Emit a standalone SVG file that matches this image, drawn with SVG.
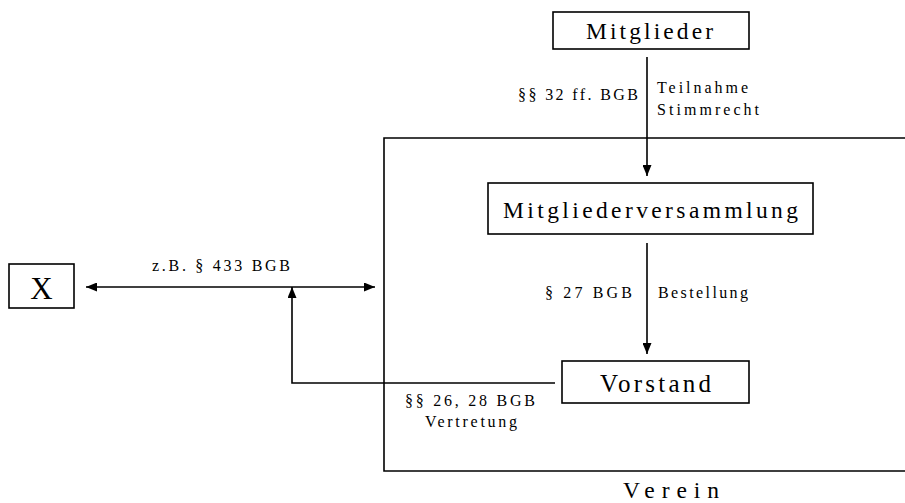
<svg xmlns="http://www.w3.org/2000/svg" width="905" height="503" viewBox="0 0 905 503">
  <style>
    .box { fill: #fff; stroke: #000; stroke-width: 1.6; }
    .frame { fill: none; stroke: #000; stroke-width: 1.6; }
    .line { fill: none; stroke: #000; stroke-width: 1.6; }
    text { font-family: 'Liberation Serif', 'Times New Roman', serif; fill: #000; }
    .big { font-size: 23.5px; }
    .small { font-size: 16px; }
  </style>
  <defs>
    <marker id="arrow" viewBox="0 0 11 9" refX="11" refY="4.5" markerWidth="11" markerHeight="9" markerUnits="userSpaceOnUse" orient="auto-start-reverse">
      <path d="M0,0 L11,4.5 L0,9 z" fill="#000"/>
    </marker>
  </defs>

  <rect width="905" height="503" fill="#fff"/>

  <!-- Verein frame (open to the right) -->
  <g id="verein">
    <path class="frame" d="M910,138 H384 V471 H910"/>
    <text class="big" x="623" y="498" textLength="96" lengthAdjust="spacing">Verein</text>
  </g>

  <!-- connectors -->
  <g id="connectors">
    <line class="line" x1="647" y1="57" x2="647" y2="176" marker-end="url(#arrow)"/>
    <text class="small" x="518" y="100" textLength="120" lengthAdjust="spacing">§§ 32 ff. BGB</text>
    <text class="small" x="657" y="93" textLength="91" lengthAdjust="spacing">Teilnahme</text>
    <text class="small" x="657" y="115" textLength="102" lengthAdjust="spacing">Stimmrecht</text>

    <line class="line" x1="647" y1="243" x2="647" y2="354" marker-end="url(#arrow)"/>
    <text class="small" x="545" y="298" textLength="87" lengthAdjust="spacing">§ 27 BGB</text>
    <text class="small" x="658" y="298" textLength="90" lengthAdjust="spacing">Bestellung</text>

    <line class="line" x1="86" y1="287" x2="375" y2="287" marker-start="url(#arrow)" marker-end="url(#arrow)"/>
    <text class="small" x="152" y="271" textLength="138" lengthAdjust="spacing">z.B. § 433 BGB</text>

    <path class="line" d="M555,383 H292 V287" marker-end="url(#arrow)"/>
    <text class="small" x="405" y="406" textLength="130" lengthAdjust="spacing">§§ 26, 28 BGB</text>
    <text class="small" x="425" y="427" textLength="92" lengthAdjust="spacing">Vertretung</text>
  </g>

  <g id="mitglieder">
    <rect class="box" x="553" y="12" width="196" height="37"/>
    <text class="big" x="586" y="39" textLength="127" lengthAdjust="spacing">Mitglieder</text>
  </g>

  <g id="mitgliederversammlung">
    <rect class="box" x="488" y="183" width="325" height="51"/>
    <text class="big" x="503" y="218" textLength="295" lengthAdjust="spacing">Mitgliederversammlung</text>
  </g>

  <g id="vorstand">
    <rect class="box" x="562" y="361" width="187" height="42"/>
    <text class="big" x="600" y="392" textLength="111" lengthAdjust="spacing" style="font-size:25px">Vorstand</text>
  </g>

  <g id="x">
    <rect class="box" x="9" y="264" width="65" height="44"/>
    <text x="41.5" y="299" text-anchor="middle" font-size="31">X</text>
  </g>
</svg>
